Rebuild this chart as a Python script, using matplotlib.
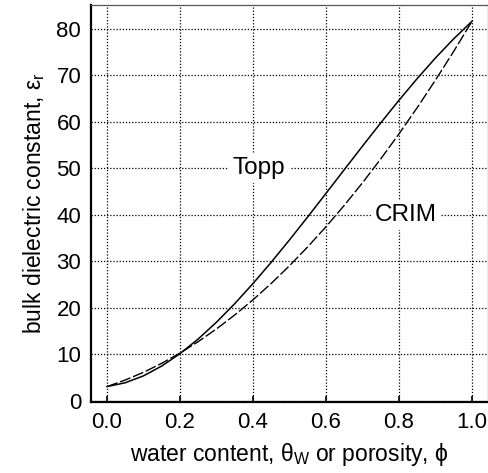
import matplotlib
matplotlib.use("Agg")
import matplotlib.pyplot as plt

plt.rcParams['font.family'] = ['Liberation Sans', 'DejaVu Sans']
plt.rcParams['mathtext.fontset'] = 'custom'
plt.rcParams['mathtext.rm'] = 'Liberation Sans'
plt.rcParams['mathtext.it'] = 'Liberation Sans'

# water content / porosity (fraction)
theta = [0.00, 0.05, 0.10, 0.15, 0.20, 0.25, 0.30, 0.35, 0.40, 0.45, 0.50,
         0.55, 0.60, 0.65, 0.70, 0.75, 0.80, 0.85, 0.90, 0.95, 1.00]

# bulk permittivity, Topp relation
eps_topp = [3.03, 3.85, 5.34, 7.45, 10.12, 13.28, 16.89, 20.88, 25.20, 29.79, 34.59,
            39.55, 44.60, 49.70, 54.77, 59.77, 64.64, 69.32, 73.75, 77.87, 81.63]

# bulk permittivity, CRIM mixing model
eps_crim = [3.03, 4.44, 6.10, 8.04, 10.24, 12.71, 15.44, 18.44, 21.70, 25.23, 29.03,
            33.10, 37.42, 42.02, 46.88, 52.01, 57.40, 63.06, 68.99, 75.17, 81.63]

xticks = [0.0, 0.2, 0.4, 0.6, 0.8, 1.0]
yticks = [0, 10, 20, 30, 40, 50, 60, 70, 80]

fig = plt.figure(figsize=(4.89, 4.73), dpi=100)
ax = fig.add_axes([0.186, 0.150, 0.812, 0.840])

ax.plot(theta, eps_topp, color='black', lw=1.1, zorder=3)
ax.plot(theta, eps_crim, color='black', lw=1.0, dashes=(8, 2), zorder=3)

ax.set_xlim(-0.044, 1.044)
ax.set_ylim(-0.3, 85.2)
ax.set_xticks(xticks)
ax.set_yticks(yticks)
ax.set_xticklabels([f"{v:.1f}" for v in xticks])
ax.grid(True, color='black', linestyle=(0, (1, 1.5)), lw=0.9)
ax.set_axisbelow(True)

ax.tick_params(direction='in', length=4, width=1.2, labelsize=16, pad=7)
ax.tick_params(axis='y', length=0, pad=7)

for side in ('left', 'bottom'):
    ax.spines[side].set_linewidth(1.6)
    ax.spines[side].set_color('black')
for side in ('top', 'right'):
    ax.spines[side].set_linewidth(0.9)
    ax.spines[side].set_color('#555555')

ax.set_xlabel(r"water content, $\mathregular{\theta_W}$ or porosity, $\mathregular{\phi}$",
              fontsize=16.5, labelpad=6)
ax.set_ylabel(r"bulk dielectric constant, $\mathregular{\varepsilon_r}$",
              fontsize=16.5, labelpad=7)

box = dict(facecolor='white', edgecolor='none', pad=3)
ax.text(0.345, 50.1, "Topp", fontsize=17.5, va='center', ha='left', bbox=box, zorder=4)
ax.text(0.734, 40.0, "CRIM", fontsize=17.5, va='center', ha='left', bbox=box, zorder=4)

fig.savefig("out.png", dpi=100)
